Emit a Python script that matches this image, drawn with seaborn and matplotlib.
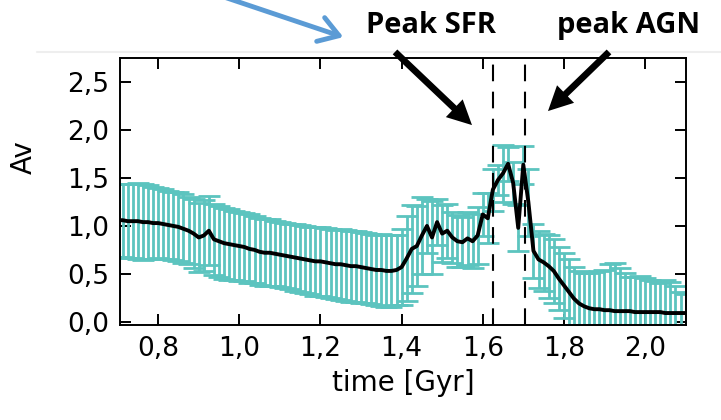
import matplotlib
matplotlib.use("Agg")
import matplotlib.pyplot as plt
import numpy as np
import pandas as pd
import seaborn as sns
from matplotlib.patches import FancyArrowPatch
from matplotlib.lines import Line2D
from matplotlib.ticker import FuncFormatter

# Median extinction along the simulated history, with its spread
time_gyr = [
    0.7000, 0.7125, 0.7250, 0.7375, 0.7500, 0.7625, 0.7750, 0.7875,
    0.8000, 0.8125, 0.8250, 0.8375, 0.8500, 0.8625, 0.8750, 0.8875,
    0.9000, 0.9125, 0.9250, 0.9375, 0.9500, 0.9625, 0.9750, 0.9875,
    1.0000, 1.0125, 1.0250, 1.0375, 1.0500, 1.0625, 1.0750, 1.0875,
    1.1000, 1.1125, 1.1250, 1.1375, 1.1500, 1.1625, 1.1750, 1.1875,
    1.2000, 1.2125, 1.2250, 1.2375, 1.2500, 1.2625, 1.2750, 1.2875,
    1.3000, 1.3125, 1.3250, 1.3375, 1.3500, 1.3625, 1.3750, 1.3875,
    1.4000, 1.4125, 1.4250, 1.4375, 1.4500, 1.4625, 1.4750, 1.4875,
    1.5000, 1.5125, 1.5250, 1.5375, 1.5500, 1.5625, 1.5750, 1.5875,
    1.6000, 1.6125, 1.6250, 1.6375, 1.6500, 1.6625, 1.6750, 1.6875,
    1.7000, 1.7125, 1.7250, 1.7375, 1.7500, 1.7625, 1.7750, 1.7875,
    1.8000, 1.8125, 1.8250, 1.8375, 1.8500, 1.8625, 1.8750, 1.8875,
    1.9000, 1.9125, 1.9250, 1.9375, 1.9500, 1.9625, 1.9750, 1.9875,
    2.0000, 2.0125, 2.0250, 2.0375, 2.0500, 2.0625, 2.0750, 2.0875,
    2.1000,
]
av_median = [
    1.06, 1.06, 1.05, 1.05, 1.05, 1.04, 1.04, 1.03,
    1.03, 1.02, 1.01, 1.00, 0.99, 0.97, 0.95, 0.92,
    0.88, 0.90, 0.95, 0.86, 0.84, 0.82, 0.81, 0.80,
    0.79, 0.78, 0.76, 0.75, 0.73, 0.72, 0.72, 0.71,
    0.70, 0.69, 0.68, 0.67, 0.66, 0.65, 0.64, 0.63,
    0.63, 0.62, 0.61, 0.60, 0.60, 0.59, 0.58, 0.58,
    0.57, 0.56, 0.55, 0.54, 0.54, 0.53, 0.53, 0.54,
    0.57, 0.66, 0.76, 0.79, 0.90, 1.00, 0.88, 1.04,
    0.92, 0.95, 0.88, 0.84, 0.83, 0.87, 0.84, 0.90,
    1.12, 1.08, 1.38, 1.48, 1.55, 1.65, 1.45, 0.98,
    1.64, 1.25, 0.74, 0.65, 0.62, 0.58, 0.53, 0.45,
    0.38, 0.31, 0.24, 0.19, 0.16, 0.14, 0.13, 0.13,
    0.12, 0.12, 0.11, 0.11, 0.11, 0.11, 0.10, 0.10,
    0.10, 0.10, 0.10, 0.10, 0.09, 0.09, 0.09, 0.09,
    0.09,
]
av_err = [
    0.38, 0.38, 0.39, 0.39, 0.40, 0.40, 0.39, 0.38,
    0.37, 0.37, 0.36, 0.36, 0.36, 0.36, 0.35, 0.36,
    0.36, 0.37, 0.36, 0.37, 0.37, 0.37, 0.37, 0.36,
    0.36, 0.36, 0.36, 0.35, 0.35, 0.35, 0.35, 0.34,
    0.34, 0.34, 0.34, 0.35, 0.35, 0.35, 0.35, 0.36,
    0.36, 0.36, 0.36, 0.36, 0.37, 0.37, 0.37, 0.37,
    0.37, 0.37, 0.37, 0.37, 0.38, 0.38, 0.38, 0.37,
    0.40, 0.44, 0.46, 0.42, 0.40, 0.28, 0.38, 0.24,
    0.30, 0.28, 0.27, 0.27, 0.26, 0.28, 0.28, 0.30,
    0.22, 0.26, 0.22, 0.16, 0.30, 0.18, 0.22, 0.24,
    0.20, 0.35, 0.28, 0.30, 0.30, 0.33, 0.33, 0.33,
    0.34, 0.34, 0.33, 0.34, 0.35, 0.37, 0.39, 0.40,
    0.42, 0.48, 0.50, 0.45, 0.40, 0.36, 0.37, 0.38,
    0.36, 0.34, 0.32, 0.30, 0.35, 0.32, 0.28, 0.22,
    0.20,
]

x_ticks = [0.8, 1.0, 1.2, 1.4, 1.6, 1.8, 2.0]
y_ticks = [0.0, 0.5, 1.0, 1.5, 2.0, 2.5]
event_times = [1.625, 1.705]
event_labels = ["Peak SFR", "peak AGN"]

df = pd.DataFrame({"time": time_gyr, "Av": av_median, "err": av_err})

sns.set_style("ticks")
plt.rcParams["font.family"] = ["DejaVu Sans"]
plt.rcParams["text.color"] = "black"
plt.rcParams["axes.labelcolor"] = "black"

W, H = 721, 420
fig = plt.figure(figsize=(W / 100, H / 100), dpi=100)


def fp(x, y):
    """Pixel position measured from the top-left corner -> figure fraction."""
    return (x / W, 1 - y / H)


left, right, top, bottom = 120, 686, 58, 325
ax = fig.add_axes([left / W, 1 - bottom / H, (right - left) / W, (bottom - top) / H])

teal = "#5cc4bf"
ax.errorbar(df["time"], df["Av"], yerr=df["err"], fmt="none", ecolor=teal,
            elinewidth=2.0, capsize=8, capthick=2.0, zorder=2)
sns.lineplot(data=df, x="time", y="Av", color="black", linewidth=2.8,
             ax=ax, zorder=3)

for t in event_times:
    ax.axvline(t, color="black", linewidth=1.5, dashes=(8, 5), zorder=4)

ax.set_xlim(0.706, 2.101)
ax.set_ylim(-0.035, 2.755)
ax.set_xticks(x_ticks)
ax.set_yticks(y_ticks)
comma = FuncFormatter(lambda v, p: f"{v:.1f}".replace(".", ","))
ax.xaxis.set_major_formatter(comma)
ax.yaxis.set_major_formatter(comma)
ax.tick_params(direction="in", length=8, width=1.4, top=True, right=True,
               labelsize=19, pad=8, colors="black")
for s in ax.spines.values():
    s.set_linewidth(1.4)
    s.set_color("black")

ax.set_xlabel("time [Gyr]", fontsize=20, labelpad=5)
ax.set_ylabel("Av", fontsize=20)
ax.yaxis.set_label_coords(-0.145, 0.63)

# Slide overlay: headings and pointers to the two events
for label, cx in zip(event_labels, [431, 629]):
    fig.text(*fp(cx, 33), label, ha="center", va="baseline", fontsize=21,
             fontweight="bold", family=["Open Sans", "DejaVu Sans"], color="black")

for tail, tip in [((393, 50), (474, 127)), ((611, 50), (546, 113))]:
    fig.add_artist(FancyArrowPatch(
        fp(*tail), fp(*tip), transform=fig.transFigure,
        arrowstyle="simple,head_length=1.1,head_width=1.1,tail_width=0.3",
        mutation_scale=16, color="black", lw=0, zorder=10))

fig.add_artist(FancyArrowPatch(
    fp(218, -5), fp(346, 38), transform=fig.transFigure,
    arrowstyle="->,head_length=0.7,head_width=0.45", mutation_scale=20,
    color="#5b9bd5", lw=3.5, zorder=10))

fig.add_artist(Line2D([37 / W, 1.0], [1 - 52 / H] * 2, transform=fig.transFigure,
                      color="#eeeeee", lw=1.5, zorder=0))

fig.savefig("out.png", dpi=100)
